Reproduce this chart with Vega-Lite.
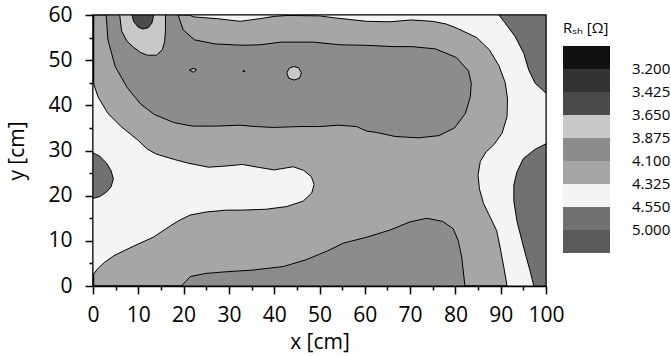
{
  "$schema": "https://vega.github.io/schema/vega-lite/v6.json",
  "width": 453,
  "height": 271,
  "autosize": {"type": "none"},
  "padding": {"left": 93, "top": 15, "right": 125, "bottom": 70},
  "background": "white",
  "config": {
    "view": {"fill": "#a6a6a6", "stroke": "#000", "strokeWidth": 1.5},
    "font": "Open Sans"
  },
  "datasets": {
    "poly": [
      {"p":"A","z":1,"b":3,"i":0,"x":0,"y":2.5},{"p":"A","z":1,"b":3,"i":1,"x":0,"y":45.2},{"p":"A","z":1,"b":3,"i":2,"x":1.1,"y":41.9},{"p":"A","z":1,"b":3,"i":3,"x":3.3,"y":38.2},{"p":"A","z":1,"b":3,"i":4,"x":6.2,"y":35.3},{"p":"A","z":1,"b":3,"i":5,"x":9.9,"y":32.3},{"p":"A","z":1,"b":3,"i":6,"x":12.0,"y":30.3},{"p":"A","z":1,"b":3,"i":7,"x":14,"y":29.2},{"p":"A","z":1,"b":3,"i":8,"x":18,"y":28},{"p":"A","z":1,"b":3,"i":9,"x":21,"y":27.2},{"p":"A","z":1,"b":3,"i":10,"x":25.5,"y":26.3},{"p":"A","z":1,"b":3,"i":11,"x":28.5,"y":26.5},{"p":"A","z":1,"b":3,"i":12,"x":33,"y":26.9},{"p":"A","z":1,"b":3,"i":13,"x":37,"y":26.2},{"p":"A","z":1,"b":3,"i":14,"x":40,"y":25.7},{"p":"A","z":1,"b":3,"i":15,"x":44.2,"y":26.4},{"p":"A","z":1,"b":3,"i":16,"x":46.5,"y":25.6},{"p":"A","z":1,"b":3,"i":17,"x":48.2,"y":24.2},{"p":"A","z":1,"b":3,"i":18,"x":48.8,"y":22.5},{"p":"A","z":1,"b":3,"i":19,"x":48.3,"y":20.6},{"p":"A","z":1,"b":3,"i":20,"x":46.4,"y":18.8},{"p":"A","z":1,"b":3,"i":21,"x":42.8,"y":17.6},{"p":"A","z":1,"b":3,"i":22,"x":38.3,"y":17.0},{"p":"A","z":1,"b":3,"i":23,"x":33,"y":16.8},{"p":"A","z":1,"b":3,"i":24,"x":29.5,"y":16.8},{"p":"A","z":1,"b":3,"i":25,"x":25.1,"y":16.4},{"p":"A","z":1,"b":3,"i":26,"x":21.4,"y":15.7},{"p":"A","z":1,"b":3,"i":27,"x":19,"y":14.5},{"p":"A","z":1,"b":3,"i":28,"x":17.2,"y":13.4},{"p":"A","z":1,"b":3,"i":29,"x":13.3,"y":10.8},{"p":"A","z":1,"b":3,"i":30,"x":8.9,"y":8.8},{"p":"A","z":1,"b":3,"i":31,"x":4.6,"y":6.7},{"p":"A","z":1,"b":3,"i":32,"x":2.5,"y":5.2},{"p":"A","z":1,"b":3,"i":33,"x":1.2,"y":4.0},

      {"p":"B","z":1,"b":3,"i":0,"x":21.3,"y":60},{"p":"B","z":1,"b":3,"i":1,"x":22.1,"y":59.6},{"p":"B","z":1,"b":3,"i":2,"x":27.3,"y":59.2},{"p":"B","z":1,"b":3,"i":3,"x":32.5,"y":58.6},{"p":"B","z":1,"b":3,"i":4,"x":36.9,"y":59.2},{"p":"B","z":1,"b":3,"i":5,"x":40,"y":59.7},{"p":"B","z":1,"b":3,"i":6,"x":43,"y":59.9},{"p":"B","z":1,"b":3,"i":7,"x":50,"y":59.8},{"p":"B","z":1,"b":3,"i":8,"x":53.1,"y":59.4},{"p":"B","z":1,"b":3,"i":9,"x":56.7,"y":59.0},{"p":"B","z":1,"b":3,"i":10,"x":60.4,"y":58.6},{"p":"B","z":1,"b":3,"i":11,"x":65.6,"y":58.5},{"p":"B","z":1,"b":3,"i":12,"x":70.2,"y":58.9},{"p":"B","z":1,"b":3,"i":13,"x":74.9,"y":58.6},{"p":"B","z":1,"b":3,"i":14,"x":78,"y":58},{"p":"B","z":1,"b":3,"i":15,"x":80.5,"y":57.0},{"p":"B","z":1,"b":3,"i":16,"x":84.7,"y":55.0},{"p":"B","z":1,"b":3,"i":17,"x":87.5,"y":52.3},{"p":"B","z":1,"b":3,"i":18,"x":89.6,"y":48.8},{"p":"B","z":1,"b":3,"i":19,"x":91.0,"y":45.0},{"p":"B","z":1,"b":3,"i":20,"x":91.5,"y":41.5},{"p":"B","z":1,"b":3,"i":21,"x":91.4,"y":37.5},{"p":"B","z":1,"b":3,"i":22,"x":90.3,"y":33.8},{"p":"B","z":1,"b":3,"i":23,"x":88.5,"y":31.3},{"p":"B","z":1,"b":3,"i":24,"x":86.8,"y":29.7},{"p":"B","z":1,"b":3,"i":25,"x":85.5,"y":27.6},{"p":"B","z":1,"b":3,"i":26,"x":85.0,"y":24.6},{"p":"B","z":1,"b":3,"i":27,"x":85.3,"y":21.5},{"p":"B","z":1,"b":3,"i":28,"x":86.2,"y":18.3},{"p":"B","z":1,"b":3,"i":29,"x":87.4,"y":15.8},{"p":"B","z":1,"b":3,"i":30,"x":89.1,"y":12.3},{"p":"B","z":1,"b":3,"i":31,"x":89.9,"y":8.4},{"p":"B","z":1,"b":3,"i":32,"x":90.7,"y":4.1},{"p":"B","z":1,"b":3,"i":33,"x":91.4,"y":0},{"p":"B","z":1,"b":3,"i":34,"x":100,"y":0},{"p":"B","z":1,"b":3,"i":35,"x":100,"y":60},

      {"p":"C","z":2,"b":5,"i":0,"x":2.9,"y":60},{"p":"C","z":2,"b":5,"i":1,"x":3.3,"y":54.5},{"p":"C","z":2,"b":5,"i":2,"x":4.9,"y":48.6},{"p":"C","z":2,"b":5,"i":3,"x":7.5,"y":44.0},{"p":"C","z":2,"b":5,"i":4,"x":10.5,"y":40.3},{"p":"C","z":2,"b":5,"i":5,"x":13.5,"y":38.0},{"p":"C","z":2,"b":5,"i":6,"x":17.8,"y":36.2},{"p":"C","z":2,"b":5,"i":7,"x":21.9,"y":35.4},{"p":"C","z":2,"b":5,"i":8,"x":27,"y":35.4},{"p":"C","z":2,"b":5,"i":9,"x":32.5,"y":35.6},{"p":"C","z":2,"b":5,"i":10,"x":36,"y":35.3},{"p":"C","z":2,"b":5,"i":11,"x":39.8,"y":35.1},{"p":"C","z":2,"b":5,"i":12,"x":45.7,"y":35.3},{"p":"C","z":2,"b":5,"i":13,"x":50,"y":35.3},{"p":"C","z":2,"b":5,"i":14,"x":54.2,"y":35.6},{"p":"C","z":2,"b":5,"i":15,"x":58.2,"y":35.3},{"p":"C","z":2,"b":5,"i":16,"x":60.4,"y":34.3},{"p":"C","z":2,"b":5,"i":17,"x":62.6,"y":34.0},{"p":"C","z":2,"b":5,"i":18,"x":66.7,"y":33.1},{"p":"C","z":2,"b":5,"i":19,"x":71.9,"y":32.8},{"p":"C","z":2,"b":5,"i":20,"x":76.4,"y":33.3},{"p":"C","z":2,"b":5,"i":21,"x":79.8,"y":35.0},{"p":"C","z":2,"b":5,"i":22,"x":82.2,"y":38.2},{"p":"C","z":2,"b":5,"i":23,"x":83.3,"y":41.9},{"p":"C","z":2,"b":5,"i":24,"x":83.5,"y":44.9},{"p":"C","z":2,"b":5,"i":25,"x":82.9,"y":47.6},{"p":"C","z":2,"b":5,"i":26,"x":80.2,"y":50.6},{"p":"C","z":2,"b":5,"i":27,"x":75.6,"y":52.5},{"p":"C","z":2,"b":5,"i":28,"x":70.4,"y":53.0},{"p":"C","z":2,"b":5,"i":29,"x":66.5,"y":53.0},{"p":"C","z":2,"b":5,"i":30,"x":60,"y":53.3},{"p":"C","z":2,"b":5,"i":31,"x":54.5,"y":53.4},{"p":"C","z":2,"b":5,"i":32,"x":48.6,"y":54.0},{"p":"C","z":2,"b":5,"i":33,"x":41.5,"y":54.0},{"p":"C","z":2,"b":5,"i":34,"x":36.9,"y":53.4},{"p":"C","z":2,"b":5,"i":35,"x":33,"y":53.3},{"p":"C","z":2,"b":5,"i":36,"x":26.9,"y":53.6},{"p":"C","z":2,"b":5,"i":37,"x":22.4,"y":54.5},{"p":"C","z":2,"b":5,"i":38,"x":19.9,"y":56.7},{"p":"C","z":2,"b":5,"i":39,"x":18.8,"y":60},

      {"p":"D","z":2,"b":5,"i":0,"x":19.5,"y":0},{"p":"D","z":2,"b":5,"i":1,"x":21.5,"y":2.1},{"p":"D","z":2,"b":5,"i":2,"x":25,"y":2.8},{"p":"D","z":2,"b":5,"i":3,"x":30,"y":3.2},{"p":"D","z":2,"b":5,"i":4,"x":35,"y":3.5},{"p":"D","z":2,"b":5,"i":5,"x":42,"y":4.3},{"p":"D","z":2,"b":5,"i":6,"x":47,"y":5.8},{"p":"D","z":2,"b":5,"i":7,"x":51.6,"y":7.7},{"p":"D","z":2,"b":5,"i":8,"x":55.3,"y":9.5},{"p":"D","z":2,"b":5,"i":9,"x":60.4,"y":10.8},{"p":"D","z":2,"b":5,"i":10,"x":65.6,"y":12.4},{"p":"D","z":2,"b":5,"i":11,"x":70,"y":14.2},{"p":"D","z":2,"b":5,"i":12,"x":73.7,"y":15.0},{"p":"D","z":2,"b":5,"i":13,"x":77.2,"y":14.3},{"p":"D","z":2,"b":5,"i":14,"x":79.5,"y":12.7},{"p":"D","z":2,"b":5,"i":15,"x":80.6,"y":10.1},{"p":"D","z":2,"b":5,"i":16,"x":81.4,"y":6.4},{"p":"D","z":2,"b":5,"i":17,"x":82.1,"y":0},

      {"p":"E","z":3,"b":6,"i":0,"x":5.9,"y":60},{"p":"E","z":3,"b":6,"i":1,"x":6.3,"y":56.5},{"p":"E","z":3,"b":6,"i":2,"x":7.5,"y":54.2},{"p":"E","z":3,"b":6,"i":3,"x":8.9,"y":52.9},{"p":"E","z":3,"b":6,"i":4,"x":10.5,"y":51.7},{"p":"E","z":3,"b":6,"i":5,"x":12,"y":51.1},{"p":"E","z":3,"b":6,"i":6,"x":14,"y":51.1},{"p":"E","z":3,"b":6,"i":7,"x":15.3,"y":52.3},{"p":"E","z":3,"b":6,"i":8,"x":15.8,"y":54},{"p":"E","z":3,"b":6,"i":9,"x":16.0,"y":56.5},{"p":"E","z":3,"b":6,"i":10,"x":16.0,"y":60},

      {"p":"F","z":3,"b":6,"i":0,"x":42.8,"y":47.2},{"p":"F","z":3,"b":6,"i":1,"x":43.2,"y":46.0},{"p":"F","z":3,"b":6,"i":2,"x":44.4,"y":45.6},{"p":"F","z":3,"b":6,"i":3,"x":45.6,"y":46.0},{"p":"F","z":3,"b":6,"i":4,"x":46.0,"y":47.2},{"p":"F","z":3,"b":6,"i":5,"x":45.4,"y":48.3},{"p":"F","z":3,"b":6,"i":6,"x":44.3,"y":48.6},{"p":"F","z":3,"b":6,"i":7,"x":43.3,"y":48.2},

      {"p":"G","z":3,"b":4,"i":0,"x":21.3,"y":47.8},{"p":"G","z":3,"b":4,"i":1,"x":22.1,"y":48.2},{"p":"G","z":3,"b":4,"i":2,"x":22.9,"y":47.9},{"p":"G","z":3,"b":4,"i":3,"x":22.2,"y":47.3},
      {"p":"H","z":3,"b":5,"i":0,"x":33.1,"y":47.5},{"p":"H","z":3,"b":5,"i":1,"x":33.5,"y":47.5},{"p":"H","z":3,"b":5,"i":2,"x":33.3,"y":47.8},

      {"p":"I","z":4,"b":7,"i":0,"x":8.6,"y":60},{"p":"I","z":4,"b":7,"i":1,"x":9.0,"y":58.5},{"p":"I","z":4,"b":7,"i":2,"x":10.0,"y":57.3},{"p":"I","z":4,"b":7,"i":3,"x":11.0,"y":56.9},{"p":"I","z":4,"b":7,"i":4,"x":12.2,"y":57.2},{"p":"I","z":4,"b":7,"i":5,"x":13.0,"y":58.2},{"p":"I","z":4,"b":7,"i":6,"x":13.4,"y":60},

      {"p":"J","z":4,"b":2,"i":0,"x":0,"y":29.5},{"p":"J","z":4,"b":2,"i":1,"x":1.5,"y":28.7},{"p":"J","z":4,"b":2,"i":2,"x":3.0,"y":27.2},{"p":"J","z":4,"b":2,"i":3,"x":4.0,"y":25.5},{"p":"J","z":4,"b":2,"i":4,"x":4.5,"y":23.7},{"p":"J","z":4,"b":2,"i":5,"x":4.0,"y":22.0},{"p":"J","z":4,"b":2,"i":6,"x":3.0,"y":20.8},{"p":"J","z":4,"b":2,"i":7,"x":1.5,"y":19.8},{"p":"J","z":4,"b":2,"i":8,"x":0,"y":19.4},

      {"p":"K","z":4,"b":2,"i":0,"x":100,"y":31.5},{"p":"K","z":4,"b":2,"i":1,"x":97.5,"y":30.2},{"p":"K","z":4,"b":2,"i":2,"x":95,"y":28.2},{"p":"K","z":4,"b":2,"i":3,"x":93.6,"y":25.3},{"p":"K","z":4,"b":2,"i":4,"x":92.9,"y":22.4},{"p":"K","z":4,"b":2,"i":5,"x":92.9,"y":18.8},{"p":"K","z":4,"b":2,"i":6,"x":93.6,"y":14.3},{"p":"K","z":4,"b":2,"i":7,"x":95.1,"y":8.4},{"p":"K","z":4,"b":2,"i":8,"x":96.5,"y":3.3},{"p":"K","z":4,"b":2,"i":9,"x":97.3,"y":0},{"p":"K","z":4,"b":2,"i":10,"x":100,"y":0},

      {"p":"L","z":4,"b":2,"i":0,"x":89.6,"y":60},{"p":"L","z":4,"b":2,"i":1,"x":91.0,"y":58.2},{"p":"L","z":4,"b":2,"i":2,"x":93.2,"y":55.2},{"p":"L","z":4,"b":2,"i":3,"x":95.1,"y":51.5},{"p":"L","z":4,"b":2,"i":4,"x":96.2,"y":47.8},{"p":"L","z":4,"b":2,"i":5,"x":97.6,"y":44.9},{"p":"L","z":4,"b":2,"i":6,"x":100,"y":42.7},{"p":"L","z":4,"b":2,"i":7,"x":100,"y":60}
    ]
  },
  "data": {"name": "poly"},
  "encoding": {
    "x": {
      "field": "x", "type": "quantitative",
      "scale": {"domain": [0, 100], "nice": false, "zero": false},
      "axis": {
        "title": "x [cm]", "grid": false,
        "values": [0,5,10,15,20,25,30,35,40,45,50,55,60,65,70,75,80,85,90,95,100],
        "labelExpr": "datum.value % 10 === 0 ? datum.label : ''",
        "tickSize": {"condition": {"test": "datum.value % 10 === 0", "value": 8}, "value": 4},
        "labelFlush": false, "labelOverlap": false,
        "domainColor": "#000", "domainWidth": 1.5, "tickColor": "#000", "tickWidth": 1.5,
        "labelColor": "#000", "labelFontSize": 21, "labelFont": "Open Sans", "labelPadding": 10,
        "titleColor": "#000", "titleFontSize": 21, "titleFont": "Open Sans", "titleFontWeight": "normal", "titlePadding": 6
      }
    },
    "y": {
      "field": "y", "type": "quantitative",
      "scale": {"domain": [0, 60], "nice": false, "zero": false},
      "axis": {
        "title": "y [cm]", "grid": false,
        "values": [0,5,10,15,20,25,30,35,40,45,50,55,60],
        "labelExpr": "datum.value % 10 === 0 ? datum.label : ''",
        "tickSize": {"condition": {"test": "datum.value % 10 === 0", "value": 8}, "value": 4},
        "labelOverlap": false,
        "domainColor": "#000", "domainWidth": 1.5, "tickColor": "#000", "tickWidth": 1.5,
        "labelColor": "#000", "labelFontSize": 21, "labelFont": "Open Sans", "labelPadding": 13,
        "titleColor": "#000", "titleFontSize": 21, "titleFont": "Open Sans", "titleFontWeight": "normal", "titlePadding": 20
      }
    },
    "detail": {"field": "p"},
    "order": {"field": "i", "type": "quantitative"},
    "color": {
      "field": "b", "type": "quantitative",
      "scale": {
        "type": "threshold",
        "domain": [1.5, 2.5, 3.5, 4.5, 5.5, 6.5, 7.5, 8.5],
        "range": ["#5a5a5a", "#717171", "#f4f4f4", "#a6a6a6", "#8c8c8c", "#c8c8c8", "#4b4b4b", "#333333", "#111111"]
      },
      "legend": {
        "type": "gradient", "title": "Rₛₕ [Ω]", "orient": "none",
        "legendX": 470, "legendY": 6, "direction": "vertical",
        "gradientLength": 207, "gradientThickness": 47, "gradientStrokeWidth": 0,
        "labelExpr": "['5.000','4.550','4.325','4.100','3.875','3.650','3.425','3.200'][round(datum.value - 1.5)]",
        "labelOverlap": false, "labelFontSize": 15, "labelFont": "Open Sans",
        "labelColor": "#000", "labelOffset": 22,
        "titleFontSize": 15, "titleFont": "Open Sans", "titleFontWeight": "normal", "titleColor": "#000", "titlePadding": 10
      }
    }
  },
  "layer": [
    {"transform": [{"filter": "datum.z === 1"}], "mark": {"type": "line", "filled": true, "opacity": 1, "fillOpacity": 1, "interpolate": "linear-closed", "stroke": "#000", "strokeWidth": 1, "clip": true}},
    {"transform": [{"filter": "datum.z === 2"}], "mark": {"type": "line", "filled": true, "opacity": 1, "fillOpacity": 1, "interpolate": "linear-closed", "stroke": "#000", "strokeWidth": 1, "clip": true}},
    {"transform": [{"filter": "datum.z === 3"}], "mark": {"type": "line", "filled": true, "opacity": 1, "fillOpacity": 1, "interpolate": "linear-closed", "stroke": "#000", "strokeWidth": 1, "clip": true}},
    {"transform": [{"filter": "datum.z === 4"}], "mark": {"type": "line", "filled": true, "opacity": 1, "fillOpacity": 1, "interpolate": "linear-closed", "stroke": "#000", "strokeWidth": 1, "clip": true}}
  ]
}
